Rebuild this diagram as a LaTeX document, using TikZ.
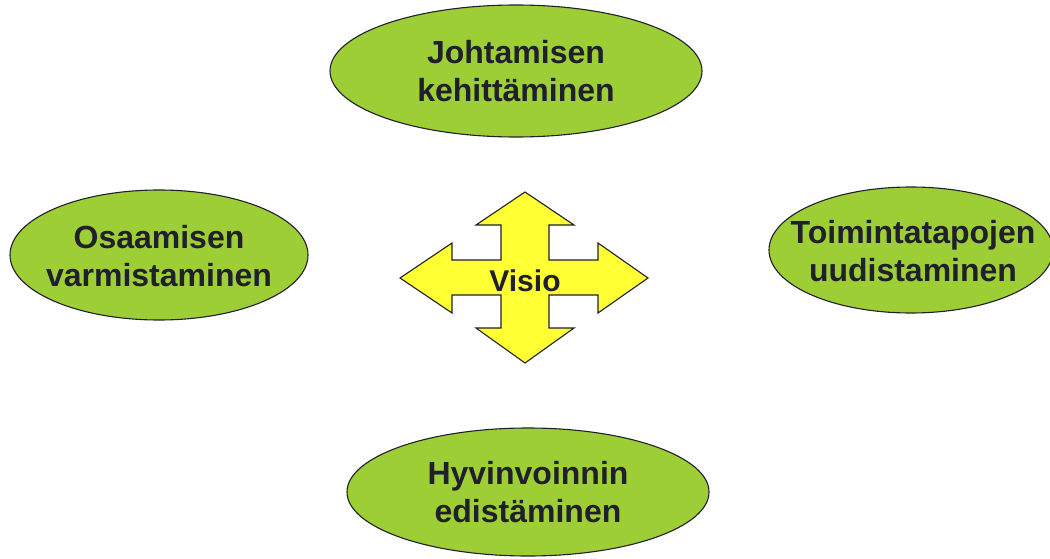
\documentclass[tikz,border=0pt]{standalone}
\usepackage{fontspec}
\setmainfont{Liberation Sans}
\definecolor{leaf}{RGB}{158,206,54}
\definecolor{sun}{RGB}{255,255,51}
\definecolor{ink}{RGB}{32,32,42}
\tikzset{
  goalshape/.style={draw=ink, line width=1.1pt, fill=leaf},
  goal/.style={inner sep=0pt, align=center, text=ink,
    font=\bfseries\fontsize{32}{38}\selectfont},
  cross/.style={draw=ink, line width=1.1pt, fill=sun, line join=miter},
}
\begin{document}
\begin{tikzpicture}[x=1pt,y=-1pt]
\useasboundingbox (0,0) rectangle (1050,559);
\draw[goalshape] (516,71) ellipse [x radius=186pt, y radius=66pt];
\node[goal] (top) at (516,71) {Johtamisen\\kehittäminen};
\draw[goalshape] (159,255) ellipse [x radius=149pt, y radius=65pt];
\node[goal] (left) at (159,256) {Osaamisen\\varmistaminen};
\draw[goalshape] (911,250) ellipse [x radius=142pt, y radius=63pt];
\node[goal] (right) at (913,251) {Toimintatapojen\\uudistaminen};
\draw[goalshape] (528,492) ellipse [x radius=181pt, y radius=64pt];
\node[goal] (bottom) at (528,492) {Hyvinvoinnin\\edistäminen};
\draw[cross] (525,192) -- (574,225) -- (549,225) -- (549,260) -- (598,260) -- (598,243)
  -- (648,278) -- (598,313) -- (598,295) -- (549,295) -- (549,328) -- (574,328)
  -- (525,363) -- (476,328) -- (501,328) -- (501,295) -- (452,295) -- (452,313)
  -- (400,278) -- (452,243) -- (452,260) -- (501,260) -- (501,225) -- (476,225) -- cycle;
\node[text=ink, font=\bfseries\fontsize{30}{34}\selectfont] (visio) at (525,281) {Visio};
\end{tikzpicture}
\end{document}
